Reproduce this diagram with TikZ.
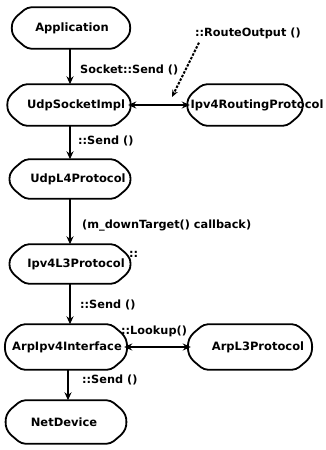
\documentclass[tikz,border=0pt]{standalone}
\usepackage{fontspec}
\setmainfont{DejaVu Sans}
\usetikzlibrary{arrows.meta}
\newcommand\octbox[1]{%
  \draw[shapeline] ([xshift=13pt]#1.north west) -- ([xshift=-13pt]#1.north east)
    -- ([yshift=-11pt]#1.north east)
    to[bend left=22] ([yshift=11pt]#1.south east)
    -- ([xshift=-13pt]#1.south east) -- ([xshift=13pt]#1.south west)
    -- ([yshift=11pt]#1.south west)
    to[bend left=22] ([yshift=-11pt]#1.north west) -- cycle;}
\begin{document}
\begin{tikzpicture}[x=1pt,y=-1pt,
  box/.style={rectangle, minimum width=#1, minimum height=41pt, inner sep=0pt},
  box/.default=115pt,
  shapeline/.style={line width=1.8pt, rounded corners=4pt, line join=round},
  txt/.style={font=\bfseries\fontsize{11.5}{13}\selectfont, inner sep=0pt},
  lbl/.style={font=\bfseries\fontsize{11.3}{13}\selectfont, inner sep=0pt, anchor=west},
  arr/.style={line width=1.8pt, -{Stealth[length=8pt,width=7pt]}},
  darr/.style={line width=1.8pt, {Stealth[length=8pt,width=7pt]}-{Stealth[length=8pt,width=7pt]}},
  dot/.style={line width=2pt, dash pattern=on 2.5pt off 1.5pt, -{Stealth[length=7pt,width=6pt]}}]
\useasboundingbox (0,0) rectangle (325,450);
% boxes
\node[box=113pt] (app) at (71,28) {};
\node[box=118pt] (usi) at (69,105) {};
\node[box=110pt] (rp) at (245,105) {};
\node[box=116pt, minimum height=39pt] (l4) at (70,179) {};
\node[box=116pt, minimum height=39pt] (l3) at (70,264) {};
\node[box=116pt, minimum height=45pt] (ai) at (66,347) {};
\node[box=118pt, minimum height=45pt] (al3) at (250,347) {};
\node[box=115pt, minimum height=43pt] (nd) at (66,422) {};
\foreach \n in {app,usi,rp,l4,l3,ai,al3,nd} {\octbox{\n}}
% texts
\node[txt] (app-t) at (72,28) {Application};
\node[txt] (usi-t) at (76,105) {UdpSocketImpl};
\node[txt] (rp-t) at (257,105) {Ipv4RoutingProtocol};
\node[txt] (l4-t) at (78,179) {UdpL4Protocol};
\node[txt] (l3-t) at (76,264) {Ipv4L3Protocol};
\node[txt] (ai-t) at (67,347) {ArpIpv4Interface};
\node[txt] (al3-t) at (258,347) {ArpL3Protocol};
\node[txt] (nd-t) at (64,422) {NetDevice};
% connectors
\draw[arr] (app.south -| 70,0) -- (usi.north -| 70,0);
\draw[darr] (usi.east) -- (rp.west);
\draw[arr] (usi.south -| 70,0) -- (l4.north -| 70,0);
\draw[arr] (l4.south -| 70,0) -- (l3.north -| 70,0);
\draw[arr] (l3.south -| 70,0) -- (ai.north -| 70,0);
\draw[darr] (ai.east) -- (al3.west);
\draw[arr] (ai.south -| 68,0) -- (nd.north -| 68,0);
% labels
\node[lbl] (l-ss) at (80,70) {Socket::Send ()};
\node[lbl] (l-ro) at (195,33) {::RouteOutput ()};
\coordinate (ro-end) at (172,97);
\draw[dot] (l-ro.south west) ++(4,4) coordinate (ro-start) -- (ro-end);
\node[lbl] (l-s1) at (78,141) {::Send ()};
\node[lbl] (l-dt) at (82,226) {(m\_downTarget() callback)};
\node[lbl] (l-cc) at (129,254) {::};
\node[lbl] (l-s2) at (80,305) {::Send ()};
\node[lbl] (l-lk) at (121,331) {::Lookup()};
\node[lbl] (l-s3) at (82,380) {::Send ()};
\end{tikzpicture}
\end{document}
